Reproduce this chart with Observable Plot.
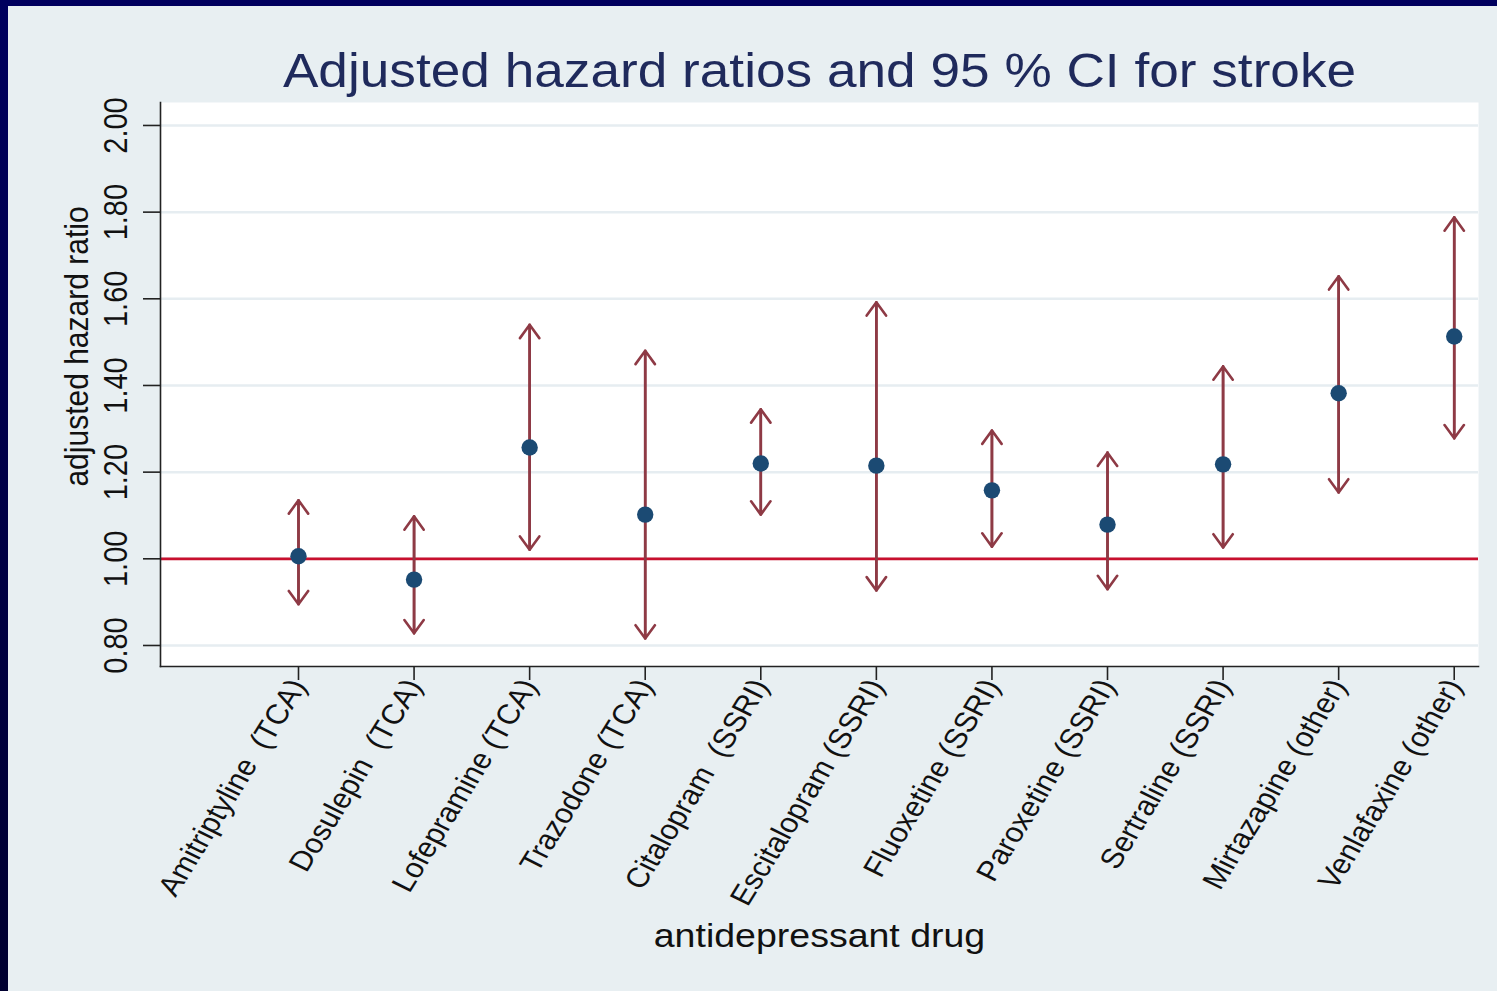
<!DOCTYPE html>
<html>
<head>
<meta charset="utf-8">
<script src="https://cdn.jsdelivr.net/npm/d3@7"></script>
<script src="https://cdn.jsdelivr.net/npm/@observablehq/plot@0.6"></script>
<style>
  html, body { margin: 0; padding: 0; overflow: hidden; }
  #frame { position: relative; width: 1497px; height: 991px; background: linear-gradient(to bottom, #00005e, #000030); }
  #inner { position: absolute; left: 8px; top: 6px; right: 0; bottom: 0; background: #e8eff2; }
  #chart { position: absolute; left: 0; top: 0; }
  svg text { white-space: pre; }
</style>
</head>
<body>
<div id="frame"><div id="inner"></div><div id="chart"></div></div>
<script>
const drugs = [
  "Amitriptyline  (TCA)", "Dosulepin  (TCA)", "Lofepramine (TCA)", "Trazodone (TCA)",
  "Citalopram  (SSRI)", "Escitalopram (SSRI)", "Fluoxetine (SSRI)", "Paroxetine (SSRI)",
  "Sertraline (SSRI)", "Mirtazapine (other)", "Venlafaxine (other)"
];
const hazardRatio = [1.006, 0.952, 1.257, 1.102, 1.220, 1.215, 1.158, 1.079, 1.218, 1.382, 1.513];
const ciLower    = [0.895, 0.828, 1.021, 0.816, 1.102, 0.927, 1.028, 0.930, 1.026, 1.153, 1.278];
const ciUpper    = [1.135, 1.098, 1.540, 1.480, 1.345, 1.592, 1.296, 1.245, 1.444, 1.652, 1.788];
const yTicks = [0.8, 1.0, 1.2, 1.4, 1.6, 1.8, 2.0];
const title = "Adjusted hazard ratios and 95 % CI for stroke";
const yLabel = "adjusted hazard ratio";
const xLabel = "antidepressant drug";

const data = drugs.map((d, i) => ({pos: i + 1, drug: d, hr: hazardRatio[i], lo: ciLower[i], hi: ciUpper[i]}));
const arrowColor = "#8e3a45";
const arrowOpts = {x: "pos", stroke: arrowColor, strokeWidth: 2.6, headLength: 9.5, headAngle: 72, bend: 0};

const chart = Plot.plot({
  width: 1497,
  height: 991,
  marginLeft: 160,
  marginRight: 19,
  marginTop: 102,
  marginBottom: 325,
  style: {background: "transparent", fontFamily: "'Liberation Sans', Arial, sans-serif", color: "#111"},
  x: {domain: [-0.194, 11.21]},
  y: {domain: [0.7515, 2.053]},
  marks: [
    Plot.frame({fill: "white", stroke: null}),
    Plot.ruleY(yTicks, {stroke: "#e6edf1", strokeWidth: 2.5}),
    Plot.ruleY([1], {stroke: "#c8102e", strokeWidth: 2.8}),
    Plot.arrow(data, {...arrowOpts, y1: "lo", y2: "hi"}),
    Plot.arrow(data, {...arrowOpts, y1: "hi", y2: "lo"}),
    Plot.dot(data, {x: "pos", y: "hr", r: 8.2, fill: "#1b4a73", stroke: null}),
    Plot.frame({anchor: "left", stroke: "#222", strokeWidth: 1.6}),
    Plot.frame({anchor: "bottom", stroke: "#222", strokeWidth: 1.6}),
    Plot.axisY({ticks: yTicks, tickFormat: d3.format(".2f"), tickRotate: -90, tickSize: 17, tickPadding: 17,
      fontSize: 29, label: null, stroke: "#222", strokeWidth: 1.6}),
    Plot.axisX({ticks: d3.range(1, 12), tickFormat: i => drugs[i - 1], tickRotate: -61, tickSize: 14, tickPadding: 1,
      fontSize: 28, label: null, stroke: "#222", strokeWidth: 1.6}),
    Plot.text([yLabel], {frameAnchor: "left", textAnchor: "middle", dx: -83, dy: -38, rotate: -90, fontSize: 30, fill: "#111"}),
    Plot.text([xLabel], {frameAnchor: "bottom", dy: 280, fontSize: 33.5, fill: "#111"}),
    Plot.text([title], {frameAnchor: "top", dy: -49, fontSize: 47.5, fill: "#1f2a5c"})
  ]
});
// the reference image is stretched horizontally; emulate it on the text glyphs
const stretch = 1.12;
d3.select(chart).selectAll("text").each(function () {
  const tr = this.getAttribute("transform");
  if (tr && /^translate\([^)]*\)/.test(tr)) {
    this.setAttribute("transform", tr.replace(/^(translate\([^)]*\))/, `$1 scale(${stretch},1)`));
  } else {
    const x = +(this.getAttribute("x") || 0), y = +(this.getAttribute("y") || 0);
    this.setAttribute("transform", `${tr || ""} translate(${x},${y}) scale(${stretch},1) translate(${-x},${-y})`);
  }
});
document.getElementById("chart").appendChild(chart);
</script>
</body>
</html>
